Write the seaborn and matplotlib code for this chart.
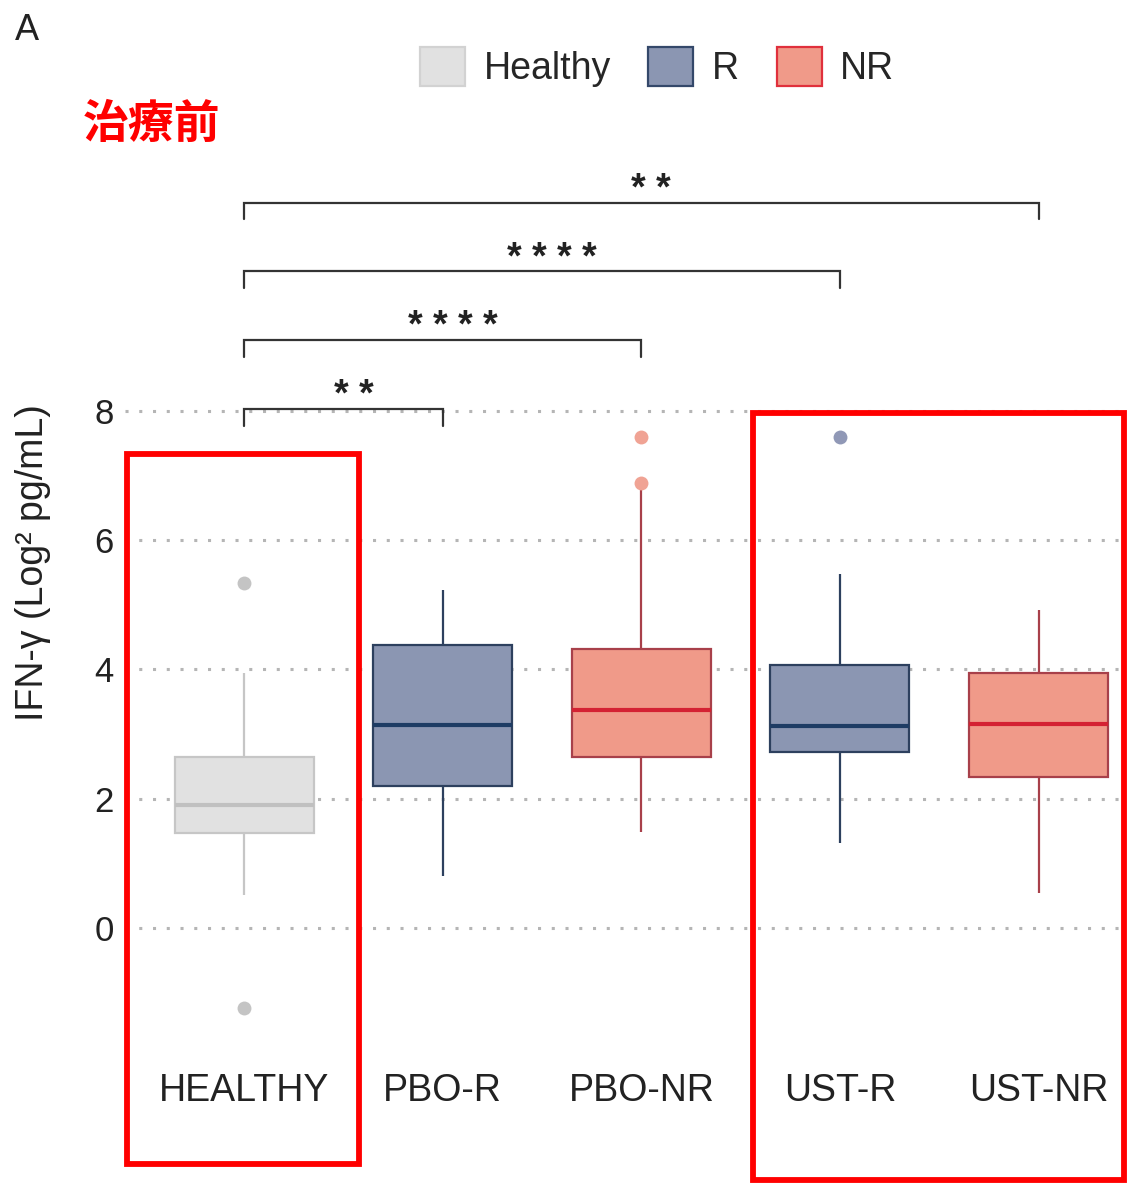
import numpy as np
import pandas as pd
import matplotlib
matplotlib.use("Agg")
import matplotlib.pyplot as plt
from matplotlib.patches import Patch, Rectangle
import seaborn as sns

# ---------------- data ----------------
groups = ["HEALTHY", "PBO-R", "PBO-NR", "UST-R", "UST-NR"]
group_status = ["Healthy", "R", "NR", "R", "NR"]
healthy_vals = [-1.24, 0.51, 1.47, 1.70, 1.90, 2.30, 2.65, 3.95, 5.33]
pbo_r_vals = [0.80, 2.20, 3.14, 4.38, 5.23]
pbo_nr_vals = [1.49, 2.00, 2.40, 2.64, 2.90, 3.20, 3.37, 3.70, 4.00, 4.32, 6.82, 6.88, 7.60]
ust_r_vals = [1.32, 2.20, 2.72, 2.90, 3.13, 3.60, 4.06, 5.48, 7.60]
ust_nr_vals = [0.54, 2.34, 3.16, 3.95, 4.92]
legend_labels = ["Healthy", "R", "NR"]
comparisons = [("HEALTHY", "PBO-R", "* *"),
               ("HEALTHY", "PBO-NR", "* * * *"),
               ("HEALTHY", "UST-R", "* * * *"),
               ("HEALTHY", "UST-NR", "* *")]
y_ticks = [0, 2, 4, 6, 8]
y_label = "IFN-γ (Log² pg/mL)"
panel_label = "A"
note_text = "治療前"

all_vals = [healthy_vals, pbo_r_vals, pbo_nr_vals, ust_r_vals, ust_nr_vals]
rows = []
for g, s, vals in zip(groups, group_status, all_vals):
    for v in vals:
        rows.append({"group": g, "status": s, "value": v})
df = pd.DataFrame(rows)

# ---------------- style ----------------
sns.set_theme(style="white")
plt.rcParams["font.family"] = ["Liberation Sans", "DejaVu Sans"]

styles = {
    "Healthy": dict(fill="#e1e1e1", edge="#c6c6c6", median="#c0c0c0", flier="#c4c4c4", legedge="#d2d2d2"),
    "R": dict(fill="#8b96b2", edge="#2d405e", median="#1e3c64", flier="#9098b6", legedge="#34486a"),
    "NR": dict(fill="#f09a89", edge="#a8404a", median="#d42233", flier="#f0a394", legedge="#e0303c"),
}

W, H = 1127, 1183
fig = plt.figure(figsize=(W / 100, H / 100), dpi=100)
ax_left, ax_right, ax_top, ax_bottom = 125, 1120, 152, 1038
ax = fig.add_axes([ax_left / W, 1 - ax_bottom / H, (ax_right - ax_left) / W, (ax_bottom - ax_top) / H])

for s, st in styles.items():
    sub = df[df["status"] == s]
    sns.boxplot(data=sub, x="group", y="value", order=groups, ax=ax,
                color=st["fill"], saturation=1, width=0.7, showcaps=False,
                linewidth=1.6, linecolor=st["edge"],
                medianprops=dict(color=st["median"], linewidth=3),
                flierprops=dict(marker="o", markerfacecolor=st["flier"],
                                markeredgecolor="none", markersize=10))

ax.set_xlim(-0.6, 4.41)
ax.set_ylim(-1.7, 12)
ax.set_yticks(y_ticks)
ax.set_yticklabels([str(t) for t in y_ticks], fontsize=25, color="#222222")
ax.set_xticks(range(len(groups)))
ax.set_xticklabels(groups, fontsize=27, color="#222222")
ax.tick_params(axis="x", length=0, pad=25)
ax.tick_params(axis="y", length=0, pad=8)
ax.set_xlabel("")
ax.set_ylabel(y_label, fontsize=27, color="#222222")
ax.yaxis.set_label_coords(-0.074, 0.537)
for sp in ax.spines.values():
    sp.set_visible(False)
ax.set_axisbelow(True)
ax.yaxis.grid(True, color="#b5b5b5", linestyle=(0, (1, 3.5)), linewidth=2.2)
ax.xaxis.grid(False)
if ax.get_legend() is not None:
    ax.get_legend().remove()

# ---------------- significance brackets ----------------
pos = {g: i for i, g in enumerate(groups)}
for i, (a, b, lab) in enumerate(comparisons):
    yb = 8.03 + i * 1.063
    x1, x2 = pos[a], pos[b]
    ax.plot([x1, x1, x2, x2], [yb - 0.26, yb, yb, yb - 0.26], color="#333333",
            linewidth=1.6, clip_on=False, solid_joinstyle="miter")
    ax.text((x1 + x2) / 2 + 0.05, yb + 0.04, lab, ha="center", va="baseline",
            fontsize=27, fontweight="bold", color="#222222")

# ---------------- legend ----------------
handles = [Patch(facecolor=styles[s]["fill"], edgecolor=styles[s]["legedge"], linewidth=1.6)
           for s in legend_labels]
fig.legend(handles, legend_labels, loc="center", bbox_to_anchor=(657 / W, 1 - 67 / H),
           ncol=3, frameon=False, fontsize=27, handlelength=1.2, handleheight=1.2,
           handletextpad=0.5, columnspacing=1.0)

# ---------------- annotations ----------------
fig.text(27 / W, 1 - 30 / H, panel_label, ha="center", va="center", fontsize=26, color="#222222")
fig.text(83 / W, 1 - 125 / H, note_text, ha="left", va="center", fontsize=33,
         color="#ff0000", fontweight="bold", family=["Noto Sans CJK JP", "DejaVu Sans"])

for (x0, y0, x1, y1) in [(126.5, 454, 358.5, 1164), (753, 413, 1124, 1180)]:
    fig.patches.append(Rectangle((x0 / W, 1 - y1 / H), (x1 - x0) / W, (y1 - y0) / H,
                                 transform=fig.transFigure, fill=False,
                                 edgecolor="#ff0000", linewidth=4.2, zorder=10))

fig.savefig("out.png", dpi=100)
